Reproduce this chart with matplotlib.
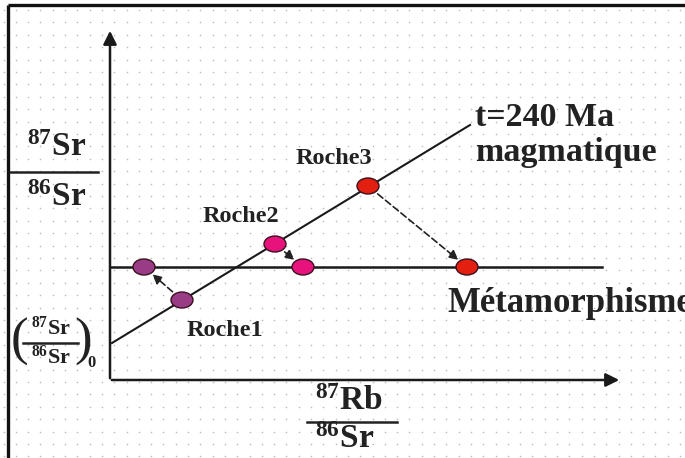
import numpy as np
import matplotlib.pyplot as plt
from matplotlib.patches import Ellipse

plt.rcParams['font.family'] = ['Liberation Serif', 'DejaVu Serif']
plt.rcParams['mathtext.fontset'] = 'custom'
plt.rcParams['mathtext.rm'] = 'Liberation Serif:bold'
plt.rcParams['mathtext.it'] = 'Liberation Serif:bold'
plt.rcParams['mathtext.bf'] = 'Liberation Serif:bold'

# rocks on the magmatic isochron (87Rb/86Sr, 87Sr/86Sr), arbitrary units
noms = ['Roche1', 'Roche2', 'Roche3']
rb_sr = [0.72, 1.65, 2.58]
sr_sr = [0.80, 1.36, 1.94]
# same rocks after metamorphism (re-homogenised strontium)
rb_sr_meta = [0.34, 1.93, 3.57]
sr_meta = 1.13
couleurs = ['#9a3b86', '#e8127c', '#e3200f']

# isochron t=240 Ma
iso_x = [0.02, 3.60]
iso_y = [0.37, 2.55]

fig = plt.figure(figsize=(6.85, 4.58), dpi=100)
ax = fig.add_axes([0, 0, 1, 1])
ax.set_xlim(-1.10, 5.75)
ax.set_ylim(-0.78, 3.80)
ax.axis('off')

# dotted paper background
gx, gy = np.meshgrid(np.arange(-1.065, 5.75, 0.123), np.arange(3.70, -0.80, -0.124))
ax.scatter(gx.ravel(), gy.ravel(), s=1.4, color='#bdbdbd', lw=0, zorder=0)

# frame (top and left)
ax.plot([-1.02, 5.75], [3.75, 3.75], color='#111111', lw=2.4, solid_capstyle='butt')
ax.plot([-1.02, -1.02], [3.75, -0.78], color='#111111', lw=2.4, solid_capstyle='butt')

# axes with arrows
fleche = dict(arrowstyle='-|>', lw=1.8, color='#1a1a1a', mutation_scale=20)
ax.annotate('', xy=(0, 3.52), xytext=(0, -0.01), arrowprops=fleche)
ax.annotate('', xy=(5.12, 0), xytext=(-0.01, 0), arrowprops=fleche)

# metamorphism line and isochron
ax.plot([0, 4.92], [sr_meta, sr_meta], color='#1a1a1a', lw=1.8, zorder=2)
ax.plot(iso_x, iso_y, color='#1a1a1a', lw=1.5, zorder=2)

# dashed arrows from magmatic to metamorphic position
for x0, y0, x1 in zip(rb_sr, sr_sr, rb_sr_meta):
    ax.annotate('', xy=(x1, sr_meta), xytext=(x0, y0),
                arrowprops=dict(arrowstyle='-|>', lw=1.2, ls=(0, (4, 2)),
                                color='#222222', mutation_scale=14,
                                shrinkA=9, shrinkB=8), zorder=3)

for x0, y0, x1, c in zip(rb_sr, sr_sr, rb_sr_meta, couleurs):
    for xx, yy in [(x0, y0), (x1, sr_meta)]:
        ax.add_patch(Ellipse((xx, yy), 0.22, 0.16, facecolor=c,
                             edgecolor='#3a1020', lw=1.0, zorder=4))

txt = dict(color='#222222', fontweight='bold')
pos_noms = [(1.15, 0.49), (1.31, 1.63), (2.24, 2.22)]
for n, (x, y) in zip(noms, pos_noms):
    ax.text(x, y, n, fontsize=17.5, ha='center', va='center', **txt)

ax.text(3.65, 2.63, 't=240 Ma', fontsize=24.5, ha='left', va='center', **txt)
ax.text(3.65, 2.27, 'magmatique', fontsize=24.5, ha='left', va='center', **txt)
ax.text(3.37, 0.77, 'Métamorphisme', fontsize=25, ha='left', va='center', **txt)

# y axis label 87Sr/86Sr
ax.text(-0.53, 2.32, r'$^{87}\mathrm{Sr}$', fontsize=24, ha='center', va='center', color='#222222')
ax.plot([-1.00, -0.12], [2.08, 2.08], color='#222222', lw=1.8)
ax.text(-0.53, 1.82, r'$^{86}\mathrm{Sr}$', fontsize=24, ha='center', va='center', color='#222222')

# initial ratio (87Sr/86Sr)0
ax.text(-0.59, 0.52, r'$^{87}\mathrm{Sr}$', fontsize=16, ha='center', va='center', color='#222222')
ax.plot([-0.87, -0.32], [0.37, 0.37], color='#222222', lw=1.8)
ax.text(-0.59, 0.23, r'$^{86}\mathrm{Sr}$', fontsize=16, ha='center', va='center', color='#222222')
ax.text(-0.91, 0.38, '(', fontsize=38, ha='center', va='center', color='#222222')
ax.text(-0.27, 0.38, ')', fontsize=38, ha='center', va='center', color='#222222')
ax.text(-0.185, 0.17, '0', fontsize=12, ha='center', va='center', **txt)

# x axis label 87Rb/86Sr
ax.text(2.39, -0.22, r'$^{87}\mathrm{Rb}$', fontsize=24, ha='center', va='center', color='#222222')
ax.plot([1.97, 2.87], [-0.42, -0.42], color='#222222', lw=1.8)
ax.text(2.35, -0.60, r'$^{86}\mathrm{Sr}$', fontsize=24, ha='center', va='center', color='#222222')

fig.savefig('out.png', dpi=100)
